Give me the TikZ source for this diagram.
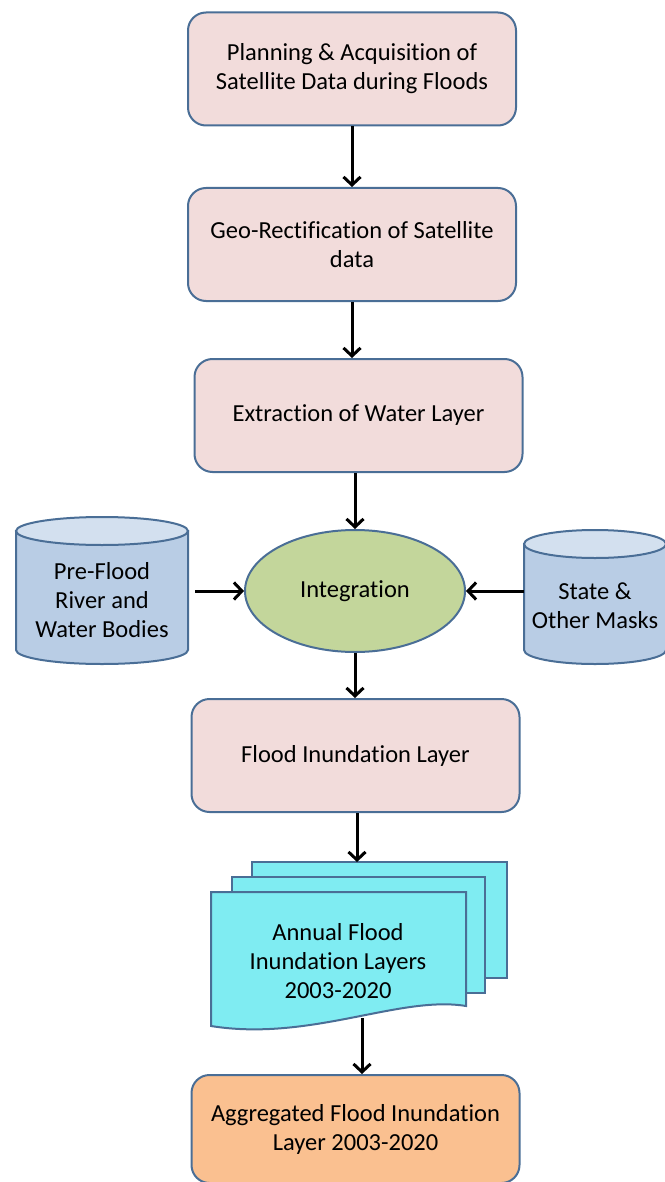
\documentclass[tikz,border=0pt]{standalone}
\usepackage{fontspec}
\setmainfont{Carlito}[Ligatures=NoCommon]
\usetikzlibrary{shapes.geometric,arrows.meta}
\definecolor{edgeblue}{HTML}{4A6E96}
\definecolor{boxpink}{HTML}{F2DCDB}
\definecolor{leafgreen}{HTML}{C3D69B}
\definecolor{maskblue}{HTML}{B9CDE5}
\definecolor{masktop}{HTML}{D3E0EF}
\definecolor{sheetcyan}{HTML}{7FECF2}
\definecolor{boxorange}{HTML}{FAC090}
\tikzset{
  txt/.style={align=center, font=\fontsize{24.5}{29}\selectfont},
  stepbox/.style={txt, draw=edgeblue, line width=2pt, fill=boxpink, rounded corners=18pt,
    minimum width=328pt, minimum height=113pt},
  drum/.style={draw=edgeblue, line width=2pt, fill=maskblue},
  drumlid/.style={draw=edgeblue, line width=2pt, fill=masktop},
  sheet/.style={draw=edgeblue, line width=2pt, fill=sheetcyan},
  flow/.style={-{Straight Barb[length=8pt,width=17pt]}, line width=3pt},
}
\begin{document}
\begin{tikzpicture}[x=1pt,y=-1pt]
\useasboundingbox (0,0) rectangle (664,1182);
% main chain
\node[stepbox] (plan) at (352,69) {Planning \& Acquisition of\\Satellite Data during Floods};
\node[stepbox] (georect) at (352,244.5) {Geo-Rectification of Satellite\\data};
\node[stepbox] (extract) at (358.5,415.5) {Extraction of Water Layer};
\node[txt, ellipse, draw=edgeblue, fill=leafgreen, line width=2pt, minimum width=220pt,
  minimum height=122pt] (integ) at (355,591) {Integration};
% mask drums
\draw[drum] (16,531) -- (16,650) arc[start angle=180, end angle=0, x radius=86, y radius=14] -- (188,531) -- cycle;
\draw[drumlid] (102,531) ellipse [x radius=86, y radius=14];
\node[txt] (preflood) at (102,600) {Pre-Flood\\River and\\Water Bodies};
\coordinate (prefloodrim) at (188,591);
\draw[drum] (524,544) -- (524,650) arc[start angle=180, end angle=0, x radius=71, y radius=14] -- (666,544) -- cycle;
\draw[drumlid] (595,544) ellipse [x radius=71, y radius=14];
\node[txt] (masks) at (595,606) {State \&\\Other Masks};
\coordinate (masksrim) at (524,591);
\node[stepbox] (flood) at (355.5,755.5) {Flood Inundation Layer};
% stack of annual layers
\draw[sheet] (252,862) rectangle (507,978);
\draw[sheet] (232,877) rectangle (485,993);
\draw[sheet] (211,892) -- (466,892) -- (466,1006)
  .. controls (400,995) and (310,1042) .. (211,1026) -- cycle;
\node[txt] (annual) at (338,961) {Annual Flood\\Inundation Layers\\2003-2020};
\coordinate (stacktop) at (357,862);
\coordinate (stackfoot) at (362,1018);
\node[stepbox, fill=boxorange, minimum height=108pt] (aggr) at (355.5,1129) {Aggregated Flood Inundation\\Layer 2003-2020};
% connectors
\draw[flow] (plan) -- (georect);
\draw[flow] (georect.south) -- (georect.south |- extract.north);
\draw[flow] (extract.south -| integ.north) -- (integ.north);
\draw[flow, shorten <=7pt] (prefloodrim) -- (integ.west);
\draw[flow] (masksrim) -- (integ.east);
\draw[flow] (integ.south) -- (integ.south |- flood.north);
\draw[flow] (flood.south -| stacktop) -- (stacktop);
\draw[flow] (stackfoot) -- (stackfoot |- aggr.north);
\end{tikzpicture}
\end{document}
